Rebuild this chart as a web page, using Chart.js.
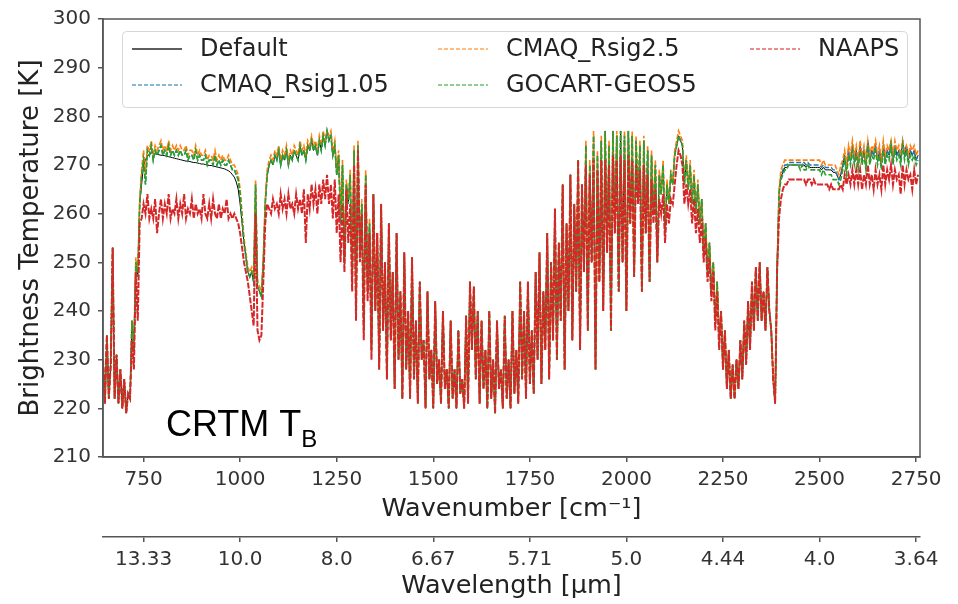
<!DOCTYPE html>
<html>
<head>
<meta charset="utf-8">
<script src="https://cdn.jsdelivr.net/npm/chart.js@4.4.1/dist/chart.umd.min.js"></script>
<style>
  html, body { margin: 0; padding: 0; background: #fff; }
  #wrap { width: 958px; height: 604px; }
</style>
</head>
<body>
<div id="wrap"><canvas id="myChart" width="958" height="604"></canvas></div>
<script>
// wavenumber sampling [cm-1], one value every 5 cm-1 from 645 to 2755
const wnStart = 645
const wnStep = 5
const wnCount = 423

// brightness temperatures [K], rows of 10 samples (first wavenumber of the row in the comment)
const defaultTb = [
  230,221,235,222,229,253,222,231,221,228, // 645
  220,226,219,223,222,238,232,250,247,262, // 695
  266,270,271,272,272,272.5,272.5,272.3,272.2,272.1, // 745
  272,272,271.9,271.8,271.7,271.6,271.5,271.4,271.3,271.2, // 795
  271.1,271,270.9,270.8,270.8,270.7,270.6,270.5,270.5,270.4, // 845
  270.3,270.2,270.2,270.1,270,269.9,269.9,269.8,269.7,269.6, // 895
  269.5,269.4,269.3,269.2,269,268.8,268.5,268,267.5,266.5, // 945
  265,262,258,254,251,248,247,248,246,265, // 995
  245,244,243,250,262,268,270,271,270,272, // 1045
  271,273,270,272,271,273,270,272,271,273, // 1095
  272,271,274,272,273,271,274,273,275,273, // 1145
  274,272,275,273,276,274,277,275,276,272, // 1195
  274,268,272,258,270,250,266,262,268,246, // 1245
  273,240,274,252,262,236,268,244,258,232, // 1295
  264,240,256,228,262,236,250,226,258,234, // 1345
  248,224,256,230,244,222,252,228,240,222, // 1395
  251,226,238,221,246,230,234,220,244,226, // 1445
  232,220,242,225,230,221,240,224,228,220, // 1495
  238,222,228,220,236,223,226,220,239,221, // 1545
  246,232,245,226,240,221,238,224,232,220, // 1595
  240,222,230,219,238,224,228,220,239,222, // 1645
  230,220,240,223,232,221,246,226,240,222, // 1695
  246,225,236,223,248,230,252,225,244,232, // 1745
  256,226,250,234,261,230,254,238,266,228, // 1795
  258,240,268,234,262,244,271,232,266,248, // 1845
  274,236,270,250,276,228,272,246,275,240, // 1895
  277,252,274,236,277,256,276,244,277,250, // 1945
  276,240,277,258,276,247,275,262,274,244, // 1995
  275,256,273,246,272,260,270,250,268,264, // 2045
  270,256,266,262,268,266,272,274,276,275, // 2095
  274,266,271,265,270,262,268,260,266,258, // 2145
  263,252,258,248,254,244,250,238,246,234, // 2195
  240,228,236,224,232,222,229,222,230,224, // 2245
  234,226,238,229,242,232,246,236,249,238, // 2295
  250,238,244,236,249,240,236,226,221,248, // 2345
  264,267.5,268.5,269.5,269.5,270,270,270,270,270, // 2395
  270,270,270,270,269.5,270,269.5,269.5,269.5,269.5, // 2445
  269.5,269.5,269,269.5,269,269,269,269,268.5,268.5, // 2495
  268,267,268,270,272,269,273,271,274,271, // 2545
  273,270,274,271,273,270,275,271,273,272, // 2595
  274,271,273,270,274,271,273,272,275,271, // 2645
  274,272,273,271,275,272,274,271,273,272, // 2695
  273,271,272 // 2745
]

const cmaqRsig105Tb = [
  230,221,235,222,229,253,222,231,221,228, // 645
  220,226,219,223,222,238,232,250,247,262, // 695
  268,271,266,273,272,274,271,273,272,273, // 745
  274,272,273,272,274,272,273,272,273,272, // 795
  273,272,272,273,271,272,272,271,273,271, // 845
  272,271,271,272,270,271,271,270,272,270, // 895
  271,270,271,270,270,271,270,269,269,268, // 945
  267,264,259,254,251,248,247,248,246,266, // 995
  245,244,243,250,262,268,270,271,270,272, // 1045
  271,273,270,272,271,273,270,272,271,273, // 1095
  272,271,274,272,273,271,274,273,275,273, // 1145
  274,272,275,273,276,274,277,275,276,272, // 1195
  274,268,272,258,270,250,266,262,268,246, // 1245
  273,240,274,252,262,236,268,244,258,232, // 1295
  264,240,256,228,262,236,250,226,258,234, // 1345
  248,224,256,230,244,222,252,228,240,222, // 1395
  251,226,238,221,246,230,234,220,244,226, // 1445
  232,220,242,225,230,221,240,224,228,220, // 1495
  238,222,228,220,236,223,226,220,239,221, // 1545
  246,232,245,226,240,221,238,224,232,220, // 1595
  240,222,230,219,238,224,228,220,239,222, // 1645
  230,220,240,223,232,221,246,226,240,222, // 1695
  246,225,236,223,248,230,252,225,244,232, // 1745
  256,226,250,234,261,230,254,238,266,228, // 1795
  258,240,268,234,262,244,271,232,266,248, // 1845
  274,236,270,250,276,228,272,246,275,240, // 1895
  277,252,274,236,277,256,276,244,277,250, // 1945
  276,240,277,258,276,247,275,262,274,244, // 1995
  275,256,273,246,272,260,270,250,268,264, // 2045
  270,256,266,262,268,266,272,274,276,275, // 2095
  274,266,271,265,270,262,268,260,266,258, // 2145
  263,252,258,248,254,244,250,238,246,234, // 2195
  240,228,236,224,232,222,229,222,230,224, // 2245
  234,226,238,229,242,232,246,236,249,238, // 2295
  250,238,244,236,249,240,236,226,221,248, // 2345
  264,268,269,270,270,270.5,270.5,270.5,270.5,270.5, // 2395
  270.5,270.5,270.5,270.5,270,270.5,270,270,270,270, // 2445
  270,270,269.5,270,269.5,269.5,269.5,269.5,269,269, // 2495
  268,267,268,270,272,269,273,271,274,271, // 2545
  273,270,274,271,273,270,275,271,273,272, // 2595
  274,271,273,270,274,271,273,272,275,271, // 2645
  274,272,273,271,275,272,274,271,273,272, // 2695
  273,271,272 // 2745
]

const cmaqRsig25Tb = [
  230,221,235,222,229,253,222,231,221,228, // 645
  220,226,219,223,222,238,233,251,248,263, // 695
  269,273,268,274,273,275,272,274,273,274, // 745
  275,273,274,273,275,273,274,273,274,273, // 795
  274,273,273,274,272,273,273,272,274,272, // 845
  273,272,272,273,271,272,272,271,273,271, // 895
  272,271,272,271,271,272,271,270,270,269, // 945
  268,265,260,255,252,249,248,249,247,267, // 995
  246,245,244,251,263,269,271,272,271,273, // 1045
  272,274,271,273,272,274,271,273,272,274, // 1095
  273,272,275,273,274,272,275,274,276,274, // 1145
  275,273,276,274,277,275,277,276,277,273, // 1195
  275,269,273,259,271,251,267,263,269,247, // 1245
  274,240,275,252,263,236,269,244,259,232, // 1295
  264,240,256,228,262,236,250,226,258,234, // 1345
  248,224,256,230,244,222,252,228,240,222, // 1395
  251,226,238,221,246,230,234,220,244,226, // 1445
  232,220,242,225,230,221,240,224,228,220, // 1495
  238,222,228,220,236,223,226,220,239,221, // 1545
  246,232,245,226,240,221,238,224,232,220, // 1595
  240,222,230,219,238,224,228,220,239,222, // 1645
  230,220,240,223,232,221,246,226,240,222, // 1695
  246,225,236,223,248,230,252,225,244,232, // 1745
  256,226,250,234,261,230,254,238,266,228, // 1795
  258,240,268,234,262,244,271,232,266,248, // 1845
  275,236,271,250,277,228,273,246,276,240, // 1895
  277,252,275,236,277,256,277,244,277,250, // 1945
  277,240,277,258,277,247,276,262,275,244, // 1995
  276,256,274,246,273,260,271,250,269,264, // 2045
  271,256,267,262,269,266,273,275,277,276, // 2095
  275,266,272,265,271,262,269,260,267,258, // 2145
  263,252,258,248,254,244,250,238,246,234, // 2195
  240,228,236,224,232,222,229,222,230,224, // 2245
  234,226,238,229,242,232,246,236,249,238, // 2295
  250,238,244,236,249,240,236,226,221,248, // 2345
  265,269,270,271,271,271,271,271,271,271, // 2395
  271,271,271,271,271,271,271,271,271,271, // 2445
  271,271,270,271,270,270,270,270,270,270, // 2495
  269,268,270,271,273,270,274,272,275,272, // 2545
  274,271,275,272,274,271,275,272,274,273, // 2595
  275,272,274,271,275,272,274,273,275,272, // 2645
  275,273,274,272,275,273,274,272,274,273, // 2695
  274,272,273 // 2745
]

const gocartGeos5Tb = [
  230,221,235,222,229,253,222,231,221,228, // 645
  220,226,219,223,222,238,232,250,247,262, // 695
  268,271,266,273,272,274,271,273,272,273, // 745
  274,272,273,272,274,272,273,272,273,272, // 795
  273,272,272,273,271,272,272,271,273,271, // 845
  272,271,271,272,270,271,271,270,272,270, // 895
  271,270,271,270,270,271,270,269,269,268, // 945
  267,264,259,254,251,248,247,248,246,266, // 995
  245,244,243,250,262,268,270,271,270,272, // 1045
  271,273,270,272,271,273,270,272,271,273, // 1095
  272,271,274,272,273,271,274,273,275,273, // 1145
  274,272,275,273,276,274,277,275,276,272, // 1195
  274,268,272,258,270,250,266,262,268,246, // 1245
  273,240,274,252,262,236,268,244,258,232, // 1295
  264,240,256,228,262,236,250,226,258,234, // 1345
  248,224,256,230,244,222,252,228,240,222, // 1395
  251,226,238,221,246,230,234,220,244,226, // 1445
  232,220,242,225,230,221,240,224,228,220, // 1495
  238,222,228,220,236,223,226,220,239,221, // 1545
  246,232,245,226,240,221,238,224,232,220, // 1595
  240,222,230,219,238,224,228,220,239,222, // 1645
  230,220,240,223,232,221,246,226,240,222, // 1695
  246,225,236,223,248,230,252,225,244,232, // 1745
  256,226,250,234,261,230,254,238,266,228, // 1795
  258,240,268,234,262,244,271,232,266,248, // 1845
  274,236,270,250,276,228,272,246,275,240, // 1895
  277,252,274,236,277,256,276,244,277,250, // 1945
  276,240,277,258,276,247,275,262,274,244, // 1995
  275,256,273,246,272,260,270,250,268,264, // 2045
  270,256,266,262,268,266,272,274,276,275, // 2095
  274,266,271,265,270,262,268,260,266,258, // 2145
  263,252,258,248,254,244,250,238,246,234, // 2195
  240,228,236,224,232,222,229,222,230,224, // 2245
  234,226,238,229,242,232,246,236,249,238, // 2295
  250,238,244,236,249,240,236,226,221,248, // 2345
  264,267,268,269,269,270,270,270,270,270, // 2395
  270,269,270,269,269,270,269,269,269,269, // 2445
  269,269,268,269,268,268,268,268,267,267, // 2495
  267,266,267,269,271,268,272,270,273,270, // 2545
  272,269,273,270,272,269,274,270,272,271, // 2595
  273,270,272,269,273,270,272,271,274,270, // 2645
  273,271,272,270,274,271,273,270,272,271, // 2695
  272,270,271 // 2745
]

const naapsTb = [
  230,221,235,222,229,253,222,231,221,228, // 645
  220,226,219,223,222,234,228,248,238,258, // 695
  259,262,260,264,259,261,259,263,256,260, // 745
  263,259,262,260,264,259,261,260,263,259, // 795
  262,260,264,259,261,260,263,259,262,260, // 845
  261,259,264,260,259,262,259,263,260,259, // 895
  262,259,261,260,263,259,260,259,260,259, // 945
  258,256,253,250,248,246,243,240,237,260, // 995
  236,234,235,246,258,262,261,260,263,261, // 1045
  262,260,264,261,263,260,264,261,262,260, // 1095
  264,261,263,260,265,254,264,261,266,262, // 1145
  265,260,266,262,267,263,268,262,266,259, // 1195
  267,256,264,250,262,248,265,254,262,244, // 1245
  270,238,273,250,260,234,266,242,256,230, // 1295
  264,240,256,228,262,236,250,226,258,234, // 1345
  248,224,256,230,244,222,252,228,240,222, // 1395
  251,226,238,221,246,230,234,220,244,226, // 1445
  232,220,242,225,230,221,240,224,228,220, // 1495
  238,222,228,220,236,223,226,220,239,221, // 1545
  246,232,245,226,240,221,238,224,232,220, // 1595
  240,222,230,219,238,224,228,220,239,222, // 1645
  230,220,240,223,232,221,246,226,240,222, // 1695
  246,225,236,223,248,230,252,225,244,232, // 1745
  256,226,250,234,261,230,254,238,266,228, // 1795
  258,240,268,234,262,244,271,232,266,248, // 1845
  270,236,268,250,271,228,269,246,271,240, // 1895
  271,252,270,236,272,256,271,244,272,250, // 1945
  271,240,272,258,271,247,270,262,269,244, // 1995
  270,256,268,246,267,258,265,250,263,260, // 2045
  264,254,262,258,263,262,266,270,273,272, // 2095
  270,262,266,262,265,258,263,256,261,254, // 2145
  259,250,255,246,251,242,248,236,244,232, // 2195
  240,228,236,224,232,222,229,222,230,224, // 2245
  234,226,238,229,242,232,246,236,249,238, // 2295
  250,238,244,236,249,240,236,226,221,248, // 2345
  259,263,265,266,266,267,267,267,267,267, // 2395
  267,267,267,267,266,267,267,266,267,266, // 2445
  266,266,266,266,266,266,265,266,265,265, // 2495
  265,265,266,265,268,266,268,266,269,266, // 2545
  269,266,269,265,268,266,270,266,268,265, // 2595
  269,266,268,265,270,266,269,267,270,266, // 2645
  269,267,268,264,270,266,269,267,268,265, // 2695
  269,266,268 // 2745
]

const wnTicks = [750, 1000, 1250, 1500, 1750, 2000, 2250, 2500, 2750]
const wnTickLabels = ['750', '1000', '1250', '1500', '1750', '2000', '2250', '2500', '2750']
const wlTickLabels = ['13.33', '10.0', '8.0', '6.67', '5.71', '5.0', '4.44', '4.0', '3.64']

const wavenumbers = []
for (let i = 0; i < wnCount; i++) wavenumbers.push(wnStart + i * wnStep)

const toPoints = (vals) => vals.map((v, i) => ({ x: wavenumbers[i], y: v }))

const series = [
  { label: 'Default',        data: defaultTb,     color: '#000000', dash: [],     width: 1,   order: 5 },
  { label: 'CMAQ_Rsig1.05',  data: cmaqRsig105Tb, color: '#1f77b4', dash: [5, 2], width: 1.4, order: 4 },
  { label: 'CMAQ_Rsig2.5',   data: cmaqRsig25Tb,  color: '#ff7f0e', dash: [5, 2], width: 1.6, order: 3 },
  { label: 'GOCART-GEOS5',   data: gocartGeos5Tb, color: '#2ca02c', dash: [5, 2], width: 1.6, order: 2 },
  { label: 'NAAPS',          data: naapsTb,       color: '#d62728', dash: [6, 1.5], width: 2, order: 1 }
]

const tickFont = { family: 'DejaVu Sans', size: 20 }
const titleFont = { family: 'DejaVu Sans', size: 25.5 }
const axisColor = '#555'

// matplotlib-like frame, legend (3 columns, column-major) and the CRTM label
const decorations = {
    id: 'decorations',
    afterDatasetsDraw(chart) {
        const { ctx, chartArea } = chart
        ctx.save()

        ctx.strokeStyle = axisColor
        ctx.lineWidth = 1.5
        ctx.strokeRect(chartArea.left, chartArea.top, chartArea.right - chartArea.left, chartArea.bottom - chartArea.top)

        // legend
        ctx.beginPath()
        ctx.roundRect(122.5, 31.5, 785, 76, 4)
        ctx.fillStyle = 'rgba(255,255,255,0.85)'
        ctx.fill()
        ctx.strokeStyle = '#d6d6d6'
        ctx.lineWidth = 1
        ctx.stroke()

        const colX = [132, 438, 750]
        const rowY = [49, 85]
        ctx.font = '24px "DejaVu Sans"'
        ctx.textBaseline = 'middle'
        series.forEach((s, i) => {
            const x = colX[Math.floor(i / 2)]
            const y = rowY[i % 2]
            ctx.beginPath()
            ctx.setLineDash(s.dash.length ? [4, 2] : [])
            ctx.strokeStyle = s.color
            ctx.globalAlpha = s.dash.length ? 0.7 : 0.85
            ctx.lineWidth = 1.5
            ctx.moveTo(x, y)
            ctx.lineTo(x + 50, y)
            ctx.stroke()
            ctx.globalAlpha = 1
            ctx.setLineDash([])
            ctx.fillStyle = '#222'
            ctx.fillText(s.label, x + 68, y + 1)
        })

        // CRTM T_B
        ctx.fillStyle = '#000'
        ctx.textBaseline = 'alphabetic'
        ctx.font = '36px "Liberation Sans"'
        ctx.fillText('CRTM T', 166, 436)
        const w = ctx.measureText('CRTM T').width
        ctx.font = '24px "Liberation Sans"'
        ctx.fillText('B', 166 + w, 447)

        ctx.restore()
    }
}

const ctx = document.getElementById('myChart').getContext('2d')

new Chart(ctx, {
    type: 'line',
    data: {
        datasets: series.map((s) => ({
            label: s.label,
            data: toPoints(s.data),
            borderColor: s.color,
            borderWidth: s.width,
            borderDash: s.dash,
            pointRadius: 0,
            tension: 0,
            fill: false,
            order: s.order
        }))
    },
    options: {
        responsive: false,
        animation: false,
        events: [],
        layout: { padding: { left: 0, right: 38, top: 17, bottom: 0 } },
        plugins: {
            legend: { display: false },
            tooltip: { enabled: false }
        },
        scales: {
            x: {
                type: 'linear',
                position: 'bottom',
                weight: 0,
                min: 645,
                max: 2760,
                afterBuildTicks: (scale) => { scale.ticks = wnTicks.map((v) => ({ value: v })) },
                afterFit: (scale) => { scale.height = 80 },
                ticks: {
                    autoSkip: false,
                    maxRotation: 0,
                    padding: 6,
                    color: '#333',
                    font: tickFont,
                    callback: (value, index) => wnTickLabels[index]
                },
                grid: { drawOnChartArea: false, drawTicks: true, tickLength: 5, color: axisColor, lineWidth: 1.5 },
                border: { display: true, color: axisColor, width: 1.5 },
                title: {
                    display: true,
                    text: 'Wavenumber [cm⁻¹]',
                    color: '#222',
                    font: titleFont,
                    padding: { top: 0, bottom: 12 }
                }
            },
            x2: {
                type: 'linear',
                position: 'bottom',
                weight: 1,
                min: 645,
                max: 2760,
                afterBuildTicks: (scale) => { scale.ticks = wnTicks.map((v) => ({ value: v })) },
                afterFit: (scale) => { scale.height = 67 },
                ticks: {
                    autoSkip: false,
                    maxRotation: 0,
                    padding: 6,
                    color: '#333',
                    font: tickFont,
                    callback: (value, index) => wlTickLabels[index]
                },
                grid: { drawOnChartArea: false, drawTicks: true, tickLength: 5, color: axisColor, lineWidth: 1.5 },
                border: { display: true, color: axisColor, width: 1.5 },
                title: {
                    display: true,
                    text: 'Wavelength [μm]',
                    color: '#222',
                    font: titleFont,
                    padding: { top: 0, bottom: 2 }
                }
            },
            y: {
                min: 210,
                max: 300,
                afterFit: (scale) => { scale.width = 103 },
                ticks: {
                    stepSize: 10,
                    padding: 7,
                    color: '#333',
                    font: tickFont
                },
                grid: { drawOnChartArea: false, drawTicks: true, tickLength: 5, color: axisColor, lineWidth: 1.5 },
                border: { display: true, color: axisColor, width: 1.5 },
                title: {
                    display: true,
                    text: 'Brightness Temperature [K]',
                    color: '#222',
                    font: { family: 'DejaVu Sans', size: 26 },
                    padding: { top: 16, bottom: 0 }
                }
            }
        }
    },
    plugins: [decorations]
})
</script>
</body>
</html>
